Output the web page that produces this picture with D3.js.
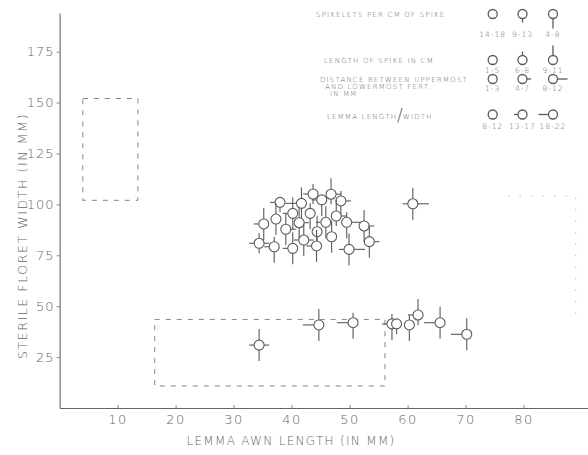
<!DOCTYPE html>
<html><head><meta charset="utf-8">
<script src="https://cdn.jsdelivr.net/npm/d3@7"></script>
<style>
html,body{margin:0;padding:0;background:#fff;}
svg{display:block;}
text{font-family:"DejaVu Sans",sans-serif;font-weight:200;fill:#666;}
</style></head>
<body>
<svg id="chart" width="588" height="455"></svg>
<script>
// ---- data ----
// lemma awn length (mm)
const awn   = [38.0,41.7,43.7,45.2,46.8,48.5,40.2,43.2,37.3,41.3,45.9,47.7,35.2,39.0,44.4,49.5,52.5,46.9,42.1,34.4,37.0,40.2,44.3,49.9,53.4,
               60.9, 34.4,44.7,50.6,57.3,58.1,60.3,61.8,65.6,70.2];
// sterile floret width (mm)
const width = [101.0,100.5,105.1,102.2,105.0,101.7,95.6,95.6,92.8,91.0,91.2,94.3,90.4,87.8,86.6,91.2,89.4,84.1,82.5,80.9,79.2,78.4,79.6,77.9,81.7,
               100.3, 30.9,40.8,41.9,41.3,41.3,40.8,45.7,41.9,36.2];
// glyph ray levels (0 none, 1 short, 2 long)
const spikeletsPerCm = [1,2,1,2,1,2,2,2,2,2,2,1,2,2,2,2,2,2,2,1,2,2,2,2,2, 2, 2,2,2,2,1,2,1,2,2]; // ray down
const spikeLength    = [0,2,1,0,2,1,2,1,2,2,2,2,2,2,2,1,2,2,2,1,1,2,2,2,2, 2, 2,2,1,1,0,1,2,2,2]; // ray up
const floretDistance = [0,0,0,0,1,1,0,0,0,1,0,1,0,1,0,2,1,0,1,1,0,0,0,2,1, 2, 1,0,0,0,0,0,0,0,0]; // ray right
const lemmaRatio     = [1,2,1,1,0,0,1,0,0,0,1,0,1,0,0,0,0,0,1,1,1,1,1,1,0, 1, 1,2,2,1,0,0,1,2,2]; // ray left

const xTicks = [10,20,30,40,50,60,70,80];
const yTicks = [25,50,75,100,125,150,175];

// dashed outline regions [x0,x1,y0,y1]
const regions = [[4,13.5,102,152],[16.4,56.1,10.8,43.5]];
const faintRegion = [77.3,89,46,104];

// legend
const legendTitles = [["SPIKELETS PER CM OF SPIKE"],["LENGTH OF SPIKE IN CM"],
  ["DISTANCE BETWEEN UPPERMOST","AND LOWERMOST FERT.","IN MM"],["LEMMA LENGTH","WIDTH"]];
const legendClasses = [["14-18","9-13","4-8"],["1-5","6-8","9-11"],["1-3","4-7","8-12"],["8-12","13-17","18-22"]];
const legendDir = ["down","up","right","left"];

// ---- chart ----
const svg = d3.select("#chart");
const x = d3.scaleLinear().domain([0,91.5]).range([59.6,590.3]);
const y = d3.scaleLinear().domain([0,194]).range([408,13]);
const ink = "#5a5a5a";
const R = 5, rayLen = [0,5,11];

// axes
const gx = svg.append("g").attr("transform","translate(0,408)")
  .call(d3.axisBottom(x).tickValues(xTicks).tickSizeInner(-3).tickSizeOuter(0).tickPadding(7).tickFormat(d3.format("d")));
gx.selectAll("text").style("font-size","13px").style("letter-spacing","1.5px").attr("fill","#666");
const gy = svg.append("g").attr("transform","translate(59.6,0)")
  .call(d3.axisLeft(y).tickValues(yTicks).tickSize(3).tickSizeOuter(0).tickPadding(2).tickFormat(d3.format("d")));
gy.selectAll("text").style("font-size","13px").style("letter-spacing","1px").attr("fill","#666");
svg.selectAll(".domain").attr("stroke","#666").attr("stroke-width",1.1);
svg.selectAll(".tick line").attr("stroke","#888");

svg.append("text").attr("x",291).attr("y",445).attr("text-anchor","middle")
  .style("font-size","12px").style("letter-spacing","1.3px").text("LEMMA  AWN LENGTH (IN MM)");
svg.append("text").attr("transform","translate(27,236) rotate(-90)").attr("text-anchor","middle")
  .style("font-size","12.5px").style("letter-spacing","1.6px").text("STERILE  FLORET  WIDTH (IN MM)");

// dashed regions
svg.selectAll("rect.region").data(regions).join("rect").attr("class","region")
  .attr("x",d=>x(d[0])).attr("y",d=>y(d[3])).attr("width",d=>x(d[1])-x(d[0])).attr("height",d=>y(d[2])-y(d[3]))
  .attr("fill","none").attr("stroke","#777").attr("stroke-width",0.9).attr("stroke-dasharray","5,6");
svg.append("path")
  .attr("d",`M${x(faintRegion[0])},${y(faintRegion[3])}H${x(faintRegion[1])}V${y(faintRegion[2])}`)
  .attr("fill","none").attr("stroke","#bbb").attr("stroke-width",1).attr("stroke-dasharray","1.5,10");

// glyph drawing
function glyph(g, cx, cy, rays, r, lens, sw){
  const [dn,up,rt,lf] = rays;
  const segs = [];
  if(dn) segs.push([cx,cy+r,cx,cy+r+lens[dn]]);
  if(up) segs.push([cx,cy-r,cx,cy-r-lens[up]]);
  if(rt) segs.push([cx+r,cy,cx+r+lens[rt],cy]);
  if(lf) segs.push([cx-r,cy,cx-r-lens[lf],cy]);
  g.selectAll(null).data(segs).join("line")
    .attr("x1",s=>s[0]).attr("y1",s=>s[1]).attr("x2",s=>s[2]).attr("y2",s=>s[3])
    .attr("stroke",ink).attr("stroke-width",sw);
  g.append("circle").attr("cx",cx).attr("cy",cy).attr("r",r)
    .attr("fill","#fff").attr("stroke",ink).attr("stroke-width",sw);
}

const pts = awn.map((a,i)=>({a, w:width[i], rays:[spikeletsPerCm[i],spikeLength[i],floretDistance[i],lemmaRatio[i]]}));
const gp = svg.append("g");
pts.forEach(p=>{ glyph(gp.append("g"), x(p.a), y(p.w), p.rays, R, rayLen, 1.1); });

// legend
const lg = svg.append("g");
const colX = [492.7,522.5,553];
const rowY = [14,60,79,114.5];
const titleX = [316,324,320,327];
legendTitles.forEach((lines,ri)=>{
  if(ri===3){
    const t = lg.append("text").attr("x",titleX[ri]).attr("y",rowY[ri]+4)
      .style("font-size","7px").style("letter-spacing","1.2px").attr("fill","#777");
    t.append("tspan").text(lines[0]);
    t.append("tspan").style("font-size","17px").style("letter-spacing","0px").attr("dy",2).attr("fill","#555").text("/");
    t.append("tspan").attr("dy",-2).text(lines[1]);
    return;
  }
  lines.forEach((t,li)=>{
    lg.append("text").attr("x",titleX[ri]+li*5).attr("y",rowY[ri]+3+li*7)
      .style("font-size","7px").style("letter-spacing","1.2px").attr("fill","#777").text(t);
  });
});
legendClasses.forEach((cls,ri)=>{
  cls.forEach((c,ci)=>{
    const rays = [0,0,0,0];
    const idx = {down:0,up:1,right:2,left:3}[legendDir[ri]];
    rays[idx] = ci;
    glyph(lg.append("g"), colX[ci], rowY[ri], rays, 4.5, [0,4,10], 1.3);
    const ly = ri===0 ? 37 : ri===1 ? 73 : ri===2 ? 91 : 129;
    lg.append("text").attr("x",colX[ci]).attr("y",ly).attr("text-anchor","middle")
      .style("font-size","7.5px").style("letter-spacing","1px").attr("fill","#777").text(c);
  });
});
</script>
</body></html>
